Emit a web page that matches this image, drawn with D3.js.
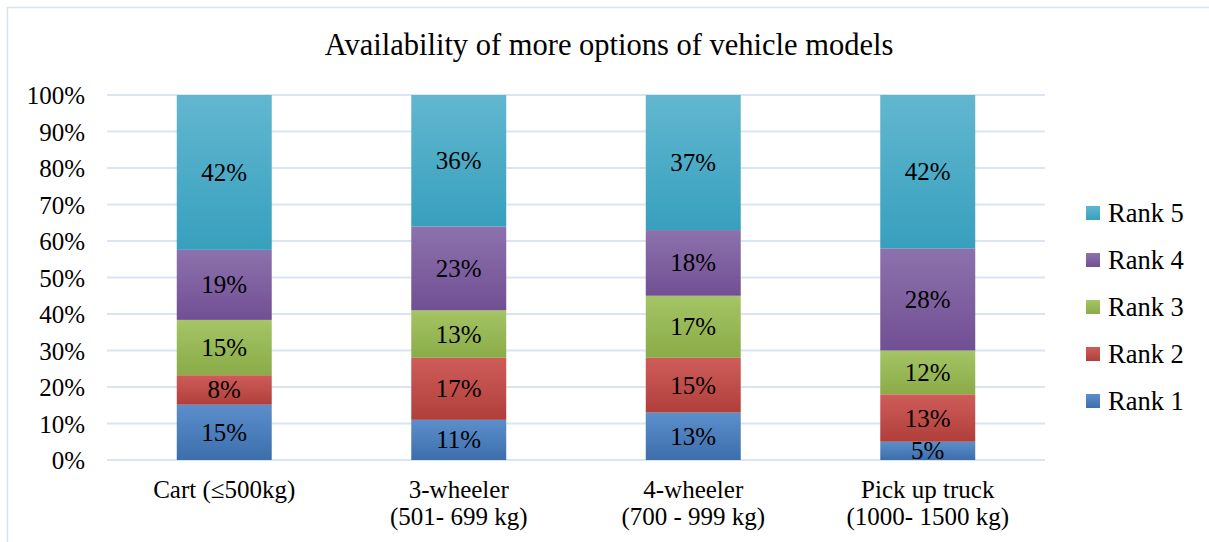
<!DOCTYPE html>
<html>
<head>
<meta charset="utf-8">
<script src="https://cdn.jsdelivr.net/npm/d3@7"></script>
<style>
  html, body { margin: 0; padding: 0; background: #fff; }
  svg { display: block; }
  text { font-family: "Liberation Serif", "DejaVu Serif", serif; fill: #000; }
</style>
</head>
<body>
<svg id="chart" width="1209" height="542"></svg>
<script>
// Categories (two-line axis labels)
const categories = ["Cart (≤500kg)", "3-wheeler\n(501- 699 kg)", "4-wheeler\n(700 - 999 kg)", "Pick up truck\n(1000- 1500 kg)"];
const seriesNames = ["Rank 1", "Rank 2", "Rank 3", "Rank 4", "Rank 5"];
// Percent shares per category, one array per rank
const rank1 = [15, 11, 13, 5];
const rank2 = [8, 17, 15, 13];
const rank3 = [15, 13, 17, 12];
const rank4 = [19, 23, 18, 28];
const rank5 = [42, 36, 37, 42];
const yTicks = [0, 0.1, 0.2, 0.3, 0.4, 0.5, 0.6, 0.7, 0.8, 0.9, 1];
const colorsLight = ["#5b8fcb", "#cf5c59", "#a5c566", "#8c72ad", "#62b7d0"];
const colorsDark = ["#3c6eac", "#b03f3c", "#8aab47", "#714f93", "#37a0bd"];

const seriesValues = [rank1, rank2, rank3, rank4, rank5];
const table = categories.map((c, i) => {
  const row = { category: c };
  seriesNames.forEach((s, j) => row[s] = seriesValues[j][i]);
  return row;
});

const svg = d3.select("#chart");
const margin = { left: 107, right: 1045, top: 95, bottom: 460 };
const FS = 25;

// Chart border
svg.append("rect")
  .attr("x", 7.5).attr("y", 7.5)
  .attr("width", 1240).attr("height", 560)
  .attr("fill", "none").attr("stroke", "#d9e3f0").attr("stroke-width", 1.5);

// Gradients for each series
const defs = svg.append("defs");
seriesNames.forEach((s, j) => {
  const g = defs.append("linearGradient").attr("id", "grad" + j)
    .attr("x1", 0).attr("y1", 0).attr("x2", 0).attr("y2", 1);
  g.append("stop").attr("offset", "0%").attr("stop-color", colorsLight[j]);
  g.append("stop").attr("offset", "100%").attr("stop-color", colorsDark[j]);
});

const x = d3.scaleBand().domain(categories).range([margin.left, margin.right]).paddingInner(0.595).paddingOuter(0.2975);
const y = d3.scaleLinear().domain([0, 1]).range([margin.bottom, margin.top]);

// Gridlines
svg.append("g").selectAll("line").data(yTicks).join("line")
  .attr("x1", margin.left).attr("x2", margin.right)
  .attr("y1", d => y(d)).attr("y2", d => y(d))
  .attr("stroke", "#dbe5f2").attr("stroke-width", 2);

// Y axis labels
const yAxis = d3.axisLeft(y).tickValues(yTicks).tickFormat(d3.format(".0%")).tickSize(0).tickPadding(22);
const gy = svg.append("g").attr("transform", `translate(${margin.left},0)`).call(yAxis);
gy.select(".domain").remove();
gy.selectAll("text").attr("font-size", FS).attr("font-family", null).attr("fill", "#000").attr("dy", "0.34em");

// Stacked, normalized to 100%
const stack = d3.stack().keys(seriesNames).offset(d3.stackOffsetExpand);
const stacked = stack(table);

const layers = svg.append("g").selectAll("g").data(stacked).join("g")
  .attr("fill", (d, j) => `url(#grad${j})`);
layers.selectAll("rect").data(d => d).join("rect")
  .attr("x", d => x(d.data.category))
  .attr("width", x.bandwidth())
  .attr("y", d => y(d[1]))
  .attr("height", d => y(d[0]) - y(d[1]));

// Value labels
const labels = svg.append("g");
stacked.forEach((layer) => {
  layer.forEach(d => {
    labels.append("text")
      .attr("x", x(d.data.category) + x.bandwidth() / 2)
      .attr("y", (y(d[0]) + y(d[1])) / 2)
      .attr("dy", "0.34em")
      .attr("text-anchor", "middle")
      .attr("font-size", FS)
      .text(d.data[layer.key] + "%");
  });
});

// X axis category labels
const xg = svg.append("g");
categories.forEach(c => {
  const lines = c.split("\n");
  const t = xg.append("text")
    .attr("x", x(c) + x.bandwidth() / 2)
    .attr("y", 498)
    .attr("text-anchor", "middle")
    .attr("font-size", FS);
  lines.forEach((ln, k) => {
    t.append("tspan").attr("x", x(c) + x.bandwidth() / 2).attr("dy", k === 0 ? 0 : 27).text(ln);
  });
});

// Title
svg.append("text")
  .attr("x", 609).attr("y", 55)
  .attr("text-anchor", "middle")
  .attr("font-size", 30.5)
  .text("Availability of more options of vehicle models");

// Legend (Rank 5 at top)
const legend = svg.append("g");
const legendOrder = seriesNames.map((s, j) => ({ s, j })).reverse();
legendOrder.forEach((d, k) => {
  const cy = 213 + k * 47;
  legend.append("rect")
    .attr("x", 1086).attr("y", cy - 7)
    .attr("width", 14).attr("height", 14)
    .attr("fill", `url(#grad${d.j})`);
  legend.append("text")
    .attr("x", 1108).attr("y", cy)
    .attr("dy", "0.34em")
    .attr("font-size", 26.5)
    .text(d.s);
});
</script>
</body>
</html>
